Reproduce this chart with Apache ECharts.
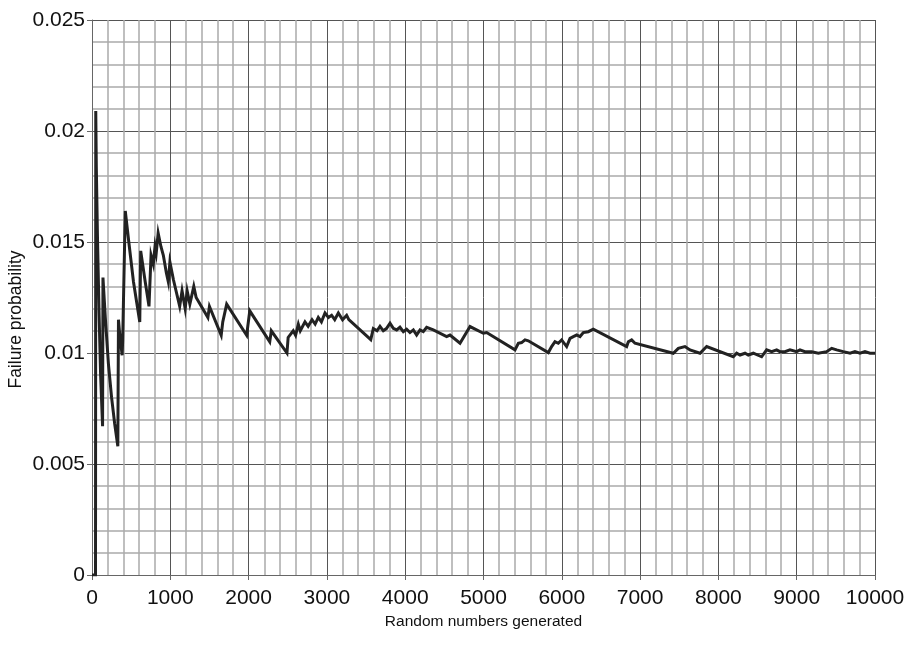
<!DOCTYPE html>
<html>
<head>
<meta charset="utf-8">
<script src="https://cdn.jsdelivr.net/npm/echarts@6/dist/echarts.min.js"></script>
<style>
  html, body { margin: 0; padding: 0; background: #fff; }
  #chart { width: 906px; height: 655px; }
</style>
</head>
<body>
<div id="chart"></div>
<script>
// random numbers generated (x) and running failure probability (y)
var sampleN = [
  0, 45, 48, 55, 70, 90, 110, 135, 140, 170, 210, 250, 290, 330, 338, 350, 385, 392, 425, 470, 530, 610,
  622, 680, 728, 754, 783, 805, 820, 845, 880, 911, 950, 975, 995, 1040, 1120, 1150, 1190, 1215, 1250,
  1300, 1330, 1480, 1500, 1650, 1670, 1720, 1975, 2015, 2270, 2290, 2490, 2505, 2570, 2600, 2635, 2660,
  2720, 2760, 2810, 2850, 2890, 2930, 2976, 3020, 3060, 3100, 3146, 3200, 3252, 3280, 3560, 3593, 3640,
  3678, 3720, 3760, 3806, 3848, 3891, 3933, 3976, 4018, 4061, 4104, 4146, 4189, 4231, 4274, 4359, 4529,
  4572, 4700, 4828, 4998, 5040, 5402, 5445, 5487, 5530, 5572, 5828, 5870, 5913, 5955, 5998, 6062, 6105,
  6147, 6190, 6232, 6275, 6339, 6402, 6828, 6850, 6892, 6935, 7424, 7488, 7573, 7637, 7765, 7850, 8190,
  8233, 8276, 8340, 8382, 8446, 8552, 8616, 8680, 8744, 8786, 8850, 8914, 8999, 9042, 9105, 9190, 9276,
  9382, 9447, 9510, 9595, 9681, 9744, 9808, 9872, 9936, 10000
];
var failProb = [
  0, 0, 0.0209, 0.0184, 0.0152, 0.0118, 0.0090, 0.0067, 0.0134, 0.0116, 0.0095, 0.0080, 0.0068, 0.0058, 0.0115, 0.0110, 0.0099, 0.0106, 0.0164, 0.0150, 0.0132, 0.0114,
  0.0146, 0.0132, 0.0121, 0.0144, 0.0140, 0.0148, 0.0145, 0.0154, 0.0148, 0.0144, 0.0136, 0.0132, 0.0141, 0.0133, 0.0121, 0.0128, 0.0120, 0.0128, 0.0122,
  0.0130, 0.0125, 0.0116, 0.0121, 0.0108, 0.0114, 0.0122, 0.0108, 0.0119, 0.0105, 0.0110, 0.0100, 0.0107, 0.0110, 0.0108, 0.0113, 0.0110,
  0.0114, 0.0112, 0.0115, 0.0113, 0.0116, 0.0114, 0.0118, 0.0116, 0.0117, 0.0115, 0.0118, 0.0115, 0.0117, 0.0115, 0.0106, 0.0111, 0.0110,
  0.0112, 0.0110, 0.0111, 0.01134, 0.01111, 0.01104, 0.01116, 0.01096, 0.01107, 0.01092, 0.01104, 0.01081, 0.01104, 0.01096, 0.01116, 0.01104, 0.01074,
  0.01081, 0.01044, 0.01119, 0.01089, 0.01092, 0.01014, 0.01044, 0.01047, 0.01059, 0.01055, 0.01002, 0.01029, 0.01051, 0.01044, 0.01059, 0.01029, 0.01066,
  0.01074, 0.01081, 0.01074, 0.01092, 0.01096, 0.01107, 0.01029, 0.01051, 0.01059, 0.01044, 0.00999, 0.01021, 0.01029, 0.01014, 0.00999, 0.01029, 0.00983,
  0.00999, 0.00991, 0.00999, 0.00991, 0.00999, 0.00983, 0.01014, 0.01006, 0.01014, 0.01006, 0.01006, 0.01014, 0.01006, 0.01014, 0.01006, 0.01006, 0.00999,
  0.01006, 0.01021, 0.01014, 0.01006, 0.00999, 0.01006, 0.00999, 0.01006, 0.00999, 0.00999
];
var yTicks = ['0', '0.005', '0.01', '0.015', '0.02', '0.025'];

var points = sampleN.map(function (n, i) { return [n, failProb[i]]; });

var font = "'Liberation Sans', Arial, sans-serif";

var chart = echarts.init(document.getElementById('chart'));
chart.setOption({
  animation: false,
  backgroundColor: '#fff',
  grid: { left: 92, right: 31, top: 20, bottom: 80, outerBoundsMode: 'none', containLabel: false },
  xAxis: {
    type: 'value',
    min: 0,
    max: 10000,
    interval: 1000,
    name: 'Random numbers generated',
    nameLocation: 'middle',
    nameGap: 39,
    nameTextStyle: { color: '#111', fontSize: 15.5, fontFamily: font },
    axisLine: { show: true, onZero: false, lineStyle: { color: '#666', width: 1 } },
    axisTick: { show: true, length: 5, lineStyle: { color: '#666' } },
    axisLabel: {
      color: '#111', fontSize: 21, fontFamily: font, margin: 13,
      formatter: function (v) { return String(v); }
    },
    splitLine: { show: true, lineStyle: { color: '#555', width: 1 } },
    minorTick: { show: false, splitNumber: 5 },
    minorSplitLine: { show: true, lineStyle: { color: '#aaa', width: 1.5 } }
  },
  yAxis: {
    type: 'value',
    min: 0,
    max: 0.025,
    interval: 0.005,
    name: 'Failure probability',
    nameLocation: 'middle',
    nameGap: 67,
    nameMoveOverlap: false,
    nameTextStyle: { color: '#111', fontSize: 17.5, fontFamily: font, padding: [0, 44, 0, 0] },
    axisLine: { show: true, lineStyle: { color: '#666', width: 1 } },
    axisTick: { show: true, length: 5, lineStyle: { color: '#666' } },
    axisLabel: {
      color: '#111', fontSize: 21, fontFamily: font, margin: 7,
      formatter: function (v) { return yTicks[Math.round(v / 0.005)]; }
    },
    splitLine: { show: true, lineStyle: { color: '#555', width: 1 } },
    minorTick: { show: false, splitNumber: 5 },
    minorSplitLine: { show: true, lineStyle: { color: '#aaa', width: 1.5 } }
  },
  series: [{
    type: 'line',
    data: points,
    showSymbol: false,
    lineStyle: { color: '#222', width: 3, join: 'miter' },
    z: 5
  }]
});
</script>
</body>
</html>
